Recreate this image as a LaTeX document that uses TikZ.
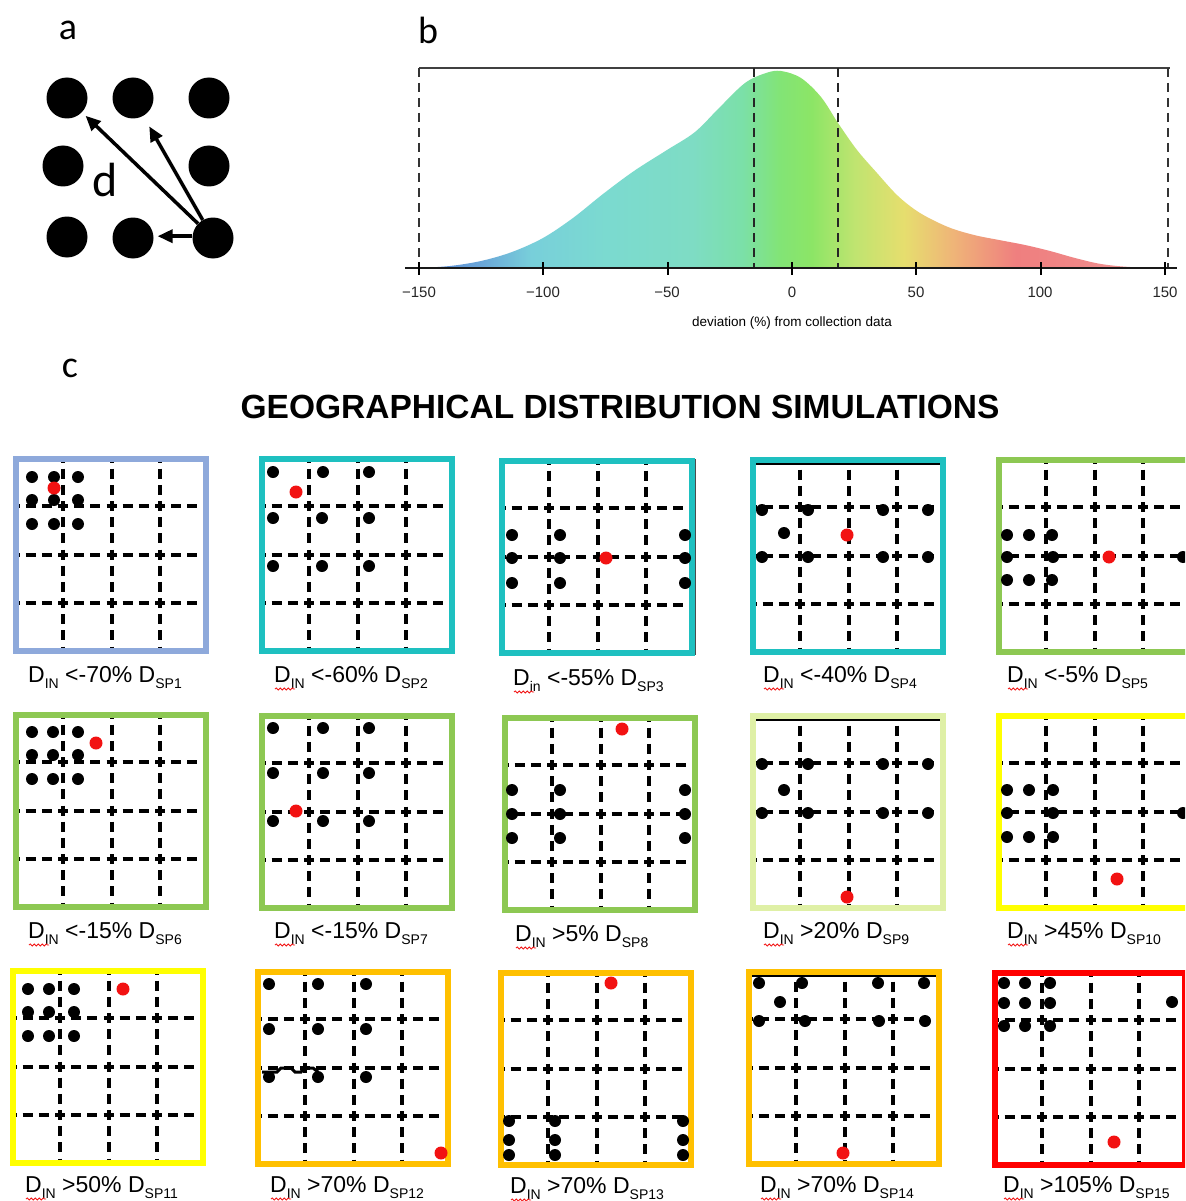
\documentclass[tikz,border=0pt]{standalone}
\usepackage{fontspec}
\setmainfont{Liberation Sans}
\newfontfamily\calib{Carlito}
\usetikzlibrary{arrows.meta,decorations.pathmorphing}

\definecolor{g0}{HTML}{5A86D6}
\definecolor{g1}{HTML}{6AA6D8}
\definecolor{g2}{HTML}{78CFDA}
\definecolor{g3}{HTML}{7BDAD0}
\definecolor{g4}{HTML}{7EDCC4}
\definecolor{g5}{HTML}{7BE0A8}
\definecolor{g6}{HTML}{82E476}
\definecolor{g7}{HTML}{8CE566}
\definecolor{g8}{HTML}{BFE470}
\definecolor{g9}{HTML}{E6DE6E}
\definecolor{g10}{HTML}{EFB478}
\definecolor{g11}{HTML}{EF7F7F}
\definecolor{g12}{HTML}{EF8686}
\definecolor{g13}{HTML}{F2A09E}
\pgfdeclarehorizontalshading{dens}{100bp}{color(0bp)=(g0); color(25bp)=(g0); color(29.17bp)=(g1); color(32.5bp)=(g2); color(37.5bp)=(g3); color(43.33bp)=(g4); color(46.67bp)=(g5); color(49.17bp)=(g6); color(51.33bp)=(g7); color(54.17bp)=(g8); color(57.5bp)=(g9); color(60.83bp)=(g10); color(65bp)=(g11); color(69.17bp)=(g12); color(75bp)=(g13); color(100bp)=(g13)}

\definecolor{sponec}{HTML}{8EA9DB}
\definecolor{tealc}{HTML}{1EC0C0}
\definecolor{greenc}{HTML}{8DC853}
\definecolor{paleyg}{HTML}{DFF0A6}
\definecolor{yelc}{HTML}{FFFF00}
\definecolor{orc}{HTML}{FFC000}
\definecolor{redc}{HTML}{FF0000}
\definecolor{dotred}{HTML}{F21212}

\tikzset{
  gridln/.style={line width=4pt, dash pattern=on 10pt off 6.17pt, dash phase=9.5pt},
  frm/.style={line width=6pt},
  adot/.style={circle, fill=black, inner sep=0pt, minimum size=41pt},
  arr/.style={line width=3.5pt, -{Triangle[length=15pt,width=13pt]}},
  lbl/.style={anchor=base west, inner sep=0pt, font=\fontsize{23}{26}\selectfont},
  sq/.style={dotred, line width=0.8pt, decorate, decoration={snake, amplitude=1.1pt, segment length=4pt}},
  plab/.style={inner sep=0pt, font=\calib\fontsize{38}{40}\selectfont},
  ticklab/.style={inner sep=0pt, text=black!85, font=\fontsize{15}{17}\selectfont},
  vdash/.style={line width=1.6pt, black!80, dash pattern=on 9pt off 6pt},
}

\newcommand\lb[3]{D\raisebox{-6pt}{\fontsize{14}{14}\selectfont #1} #2 D\raisebox{-6pt}{\fontsize{14}{14}\selectfont #3}}
\newcommand\bdots[1]{\foreach \xx/\yy in {#1}{\fill[black] (\xx,\yy) circle (6pt);}}
\newcommand\rdot[2]{\fill[dotred] (#1,#2) circle (6.5pt);}
\newcommand\gpanel[4]{%
  \begin{scope}[shift={(#1,#2)}]
    \foreach \g in {50,98.5,147}{\draw[gridln] (\g,6) -- (\g,192); \draw[gridln] (6,\g) -- (190,\g);}
    \draw[frm,#3] (3,3) rectangle (193,195);
    #4
  \end{scope}}

\begin{document}
\begin{tikzpicture}[x=1pt,y=-1pt]
\useasboundingbox (0,0) rectangle (1185,1201);
\clip (0,0) rectangle (1185,1201);
\fill[white] (0,0) rectangle (1185,1201);

% ---------------- panel a ----------------
\node[plab] (la) at (68,30) {a};
\node[adot] (a1) at (67,98) {};
\node[adot] (a2) at (133,98) {};
\node[adot] (a3) at (209,98) {};
\node[adot] (a4) at (63,166) {};
\node[adot] (a5) at (209,166) {};
\node[adot] (a6) at (67,237) {};
\node[adot] (a7) at (133,238) {};
\node[adot] (a8) at (213,238) {};
\draw[arr, shorten >=5pt] (a8) -- (a1);
\draw[arr, shorten >=12pt] (a8) -- (a2);
\draw[arr, shorten >=4pt] (a8.175) -- (a7.5);
\node[inner sep=0pt, font=\calib\fontsize{48}{50}\selectfont] (ld) at (105,180) {d};

% ---------------- panel b ----------------
\node[plab] (lb) at (428,30) {b};
\begin{scope}
  \clip plot[smooth, tension=0.55] coordinates {(419,268) (450,266) (481,261) (512,252) (543,238) (573,218) (603,194) (634,171) (667,150) (695,132) (720,107) (745,83) (766,73) (781,71) (801,78) (821,97) (838,123) (857,150) (877,173) (898,196) (920,213) (948,227) (974,235) (999,240) (1025,245) (1050,251) (1075,258) (1101,264) (1130,267) (1165,268)} -- cycle;
  \shade[shading=dens] (419,60) rectangle (1165,270);
\end{scope}
\draw[line width=2pt, black!75] (419,68) -- (1170,68);
\draw[vdash] (419,68) -- (419,268);
\draw[vdash] (1168,68) -- (1168,268);
\draw[vdash, line width=2pt, black!85] (754,68) -- (754,268);
\draw[vdash, line width=2pt, black!85] (838,68) -- (838,268);
\draw[line width=2.6pt, black!90] (405,268) -- (1177,268);
\foreach \v in {-150,-100,-50,0,50,100,150}{
  \draw[line width=2pt] ({792+\v*2.487},262) -- ({792+\v*2.487},275);
}
\node[ticklab] (t1) at (419,292) {−150};
\node[ticklab] (t2) at (543,292) {−100};
\node[ticklab] (t3) at (667,292) {−50};
\node[ticklab] (t4) at (792,292) {0};
\node[ticklab] (t5) at (916,292) {50};
\node[ticklab] (t6) at (1040,292) {100};
\node[ticklab] (t7) at (1165,292) {150};
\node[inner sep=0pt, anchor=base, font=\fontsize{13.5}{15}\selectfont, text=black] (xl) at (792,326) {deviation (\%) from collection data};

% ---------------- panel c ----------------
\node[plab] (lc) at (70,368) {c};
\node[inner sep=0pt, anchor=base, font=\bfseries\fontsize{33.5}{36}\selectfont] (title) at (620,418) {GEOGRAPHICAL DISTRIBUTION SIMULATIONS};

% row 1
\gpanel{13}{456}{sponec}{\bdots{19/21,41/21,65/21,19/44,41/44,65/44,19/68,41/68,65/68}\rdot{41}{32}}
\gpanel{259}{456}{tealc}{\bdots{14/16,64/16,110/16,14/62,63/62,110/62,14/110,63/110,110/110}\rdot{37}{36}}
\gpanel{499}{458}{tealc}{\draw[line width=1.5pt, black!70] (196.5,1) -- (196.5,197);\bdots{13/77,61/77,186/77,13/100,61/100,186/100,13/125,61/125,186/125}\rdot{107}{100}}
\gpanel{750}{457}{tealc}{\draw[line width=2pt] (6,6.5) -- (190,6.5);\bdots{12/53,58/53,133/53,178/53,34/76,12/100,58/100,133/100,178/100}\rdot{97}{78}}
\gpanel{996}{457}{greenc}{\bdots{11/78,33/78,56/78,11/100,57/100,187/100,11/123,33/123,56/123}\rdot{113}{100}}
% row 2
\gpanel{13}{712}{greenc}{\bdots{19/20,40/20,65/20,19/43,40/43,65/43,19/67,40/67,65/67}\rdot{83}{31}}
\gpanel{259}{713}{greenc}{\bdots{14/15,64/15,110/15,14/60,64/60,110/60,14/108,64/108,110/108}\rdot{37}{98}}
\gpanel{502}{715}{greenc}{\bdots{10/75,58/75,183/75,10/99,58/99,183/99,10/123,58/123,183/123}\rdot{120}{14}}
\gpanel{750}{713}{paleyg}{\draw[line width=2pt] (6,6.5) -- (190,6.5);\bdots{12/51,58/51,133/51,178/51,34/77,12/100,58/100,133/100,178/100}\rdot{97}{184}}
\gpanel{996}{713}{yelc}{\bdots{11/77,33/77,57/77,11/100,57/100,187/100,11/124,33/124,57/124}\rdot{121}{166}}
% row 3
\gpanel{10}{968}{yelc}{\bdots{18/21,39/21,64/21,18/44,39/44,64/44,18/68,39/68,64/68}\rdot{113}{21}}
\gpanel{255}{969}{orc}{\draw[line width=3pt] (7,103) -- (22,103) -- (26,99) -- (36,99) -- (40,103) -- (46,103) -- (49,99) -- (58,99) -- (63,103);\bdots{14/15,63/15,111/15,14/60,63/60,111/60,14/108,63/108,111/108}\rdot{186}{184}}
\gpanel{498}{970}{orc}{\bdots{11/151,57/151,185/151,11/170,57/170,185/170,11/185,57/185,185/185}\rdot{113}{13}}
\gpanel{746}{969}{orc}{\draw[line width=2pt] (6,6.5) -- (190,6.5);\bdots{13/14,56/14,132/14,178/14,34/33,13/52,59/52,133/52,179/52}\rdot{97}{184}}
\gpanel{992}{970}{redc}{\bdots{12/13,33/13,58/13,12/33,33/33,58/33,12/56,33/56,58/56,180/32}\rdot{122}{172}}

% labels
\node[lbl] (l1) at (28,682) {\lb{IN}{<-70\%}{SP1}};
\node[lbl] (l2) at (274,682) {\lb{IN}{<-60\%}{SP2}};
\node[lbl] (l3) at (513,685) {\lb{in}{<-55\%}{SP3}};
\node[lbl] (l4) at (763,682) {\lb{IN}{<-40\%}{SP4}};
\node[lbl] (l5) at (1007,682) {\lb{IN}{<-5\%}{SP5}};
\node[lbl] (l6) at (28,938) {\lb{IN}{<-15\%}{SP6}};
\node[lbl] (l7) at (274,938) {\lb{IN}{<-15\%}{SP7}};
\node[lbl] (l8) at (515,941) {\lb{IN}{>5\%}{SP8}};
\node[lbl] (l9) at (763,938) {\lb{IN}{>20\%}{SP9}};
\node[lbl] (l10) at (1007,938) {\lb{IN}{>45\%}{SP10}};
\node[lbl] (l11) at (25,1192) {\lb{IN}{>50\%}{SP11}};
\node[lbl] (l12) at (270,1192) {\lb{IN}{>70\%}{SP12}};
\node[lbl] (l13) at (510,1193) {\lb{IN}{>70\%}{SP13}};
\node[lbl] (l14) at (760,1192) {\lb{IN}{>70\%}{SP14}};
\node[lbl] (l15) at (1003,1192) {\lb{IN}{>105\%}{SP15}};
\foreach \k in {2,...,15}{
  \draw[sq] ([xshift=1pt,yshift=-7pt]l\k.base west) -- ++(20,0);
}
\end{tikzpicture}
\end{document}
